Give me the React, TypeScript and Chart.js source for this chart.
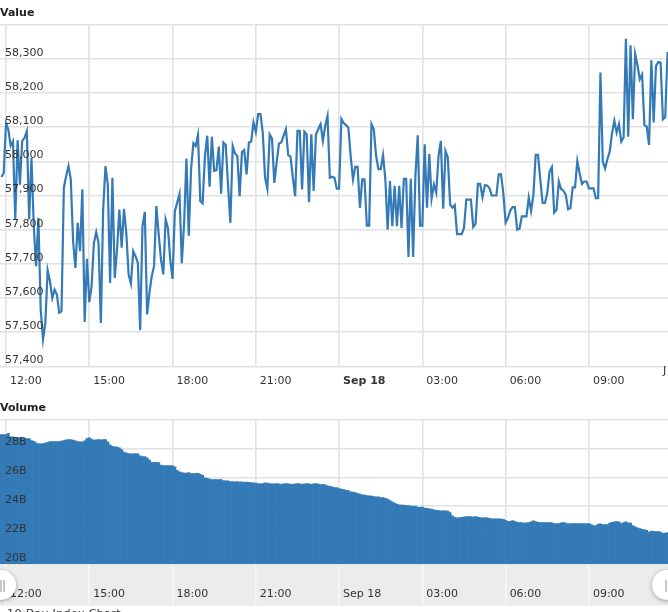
import React, { useEffect, useRef } from 'react'
import Chart from 'chart.js/auto'

// one reading every five minutes, first one ten minutes before the 12:00 tick
const startMinute = -10
const stepMinutes = 5

const priceValues = [
  57954, 57966, 58111, 58093, 58046, 58059, 57830, 58062, 57932, 58059, 58069, 58088,
  57830, 58010, 57810, 57693, 57835, 57566, 57479, 57527, 57681, 57649, 57600, 57624,
  57610, 57557, 57561, 57922, 57957, 57986, 57947, 57766, 57688, 57820, 57737, 57918,
  57530, 57715, 57588, 57635, 57761, 57793, 57761, 57527, 57859, 57986, 57932, 57644,
  57952, 57659, 57742, 57859, 57747, 57861, 57791, 57669, 57642, 57737, 57722, 57703,
  57506, 57810, 57852, 57552, 57615, 57664, 57693, 57869, 57786, 57713, 57669, 57830,
  57805, 57712, 57656, 57854, 57879, 57905, 57702, 57820, 58008, 57782, 57977, 58053,
  58045, 58077, 57883, 57877, 58016, 58075, 57926, 58072, 57972, 57975, 58043, 57905,
  58055, 58048, 57928, 57820, 58045, 58023, 58016, 57898, 58027, 58033, 57962, 58055,
  58058, 58114, 58086, 58138, 58138, 58084, 57952, 57920, 58079, 58067, 57937, 57996,
  58052, 58055, 58075, 58094, 58018, 58014, 57952, 57898, 58089, 58089, 57918, 58087,
  58079, 57880, 58079, 57913, 58079, 58094, 58109, 58060, 58104, 58133, 57952, 57955,
  57952, 57920, 57920, 58124, 58112, 58106, 58099, 58016, 57947, 57984, 57984, 57864,
  57947, 57947, 57812, 57812, 58109, 58094, 58016, 57977, 57977, 58018, 57947, 57800,
  57942, 57810, 57928, 57810, 57928, 57805, 57949, 57949, 57720, 57949, 57720, 57957,
  58076, 57812, 57812, 58050, 57864, 58021, 57891, 57932, 57908, 58016, 58060, 57861,
  58030, 58011, 57874, 57864, 57872, 57787, 57787, 57787, 57805, 57888, 57888, 57888,
  57808, 57817, 57934, 57934, 57895, 57930, 57929, 57922, 57900, 57900, 57900, 57962,
  57962,
  57907, 57821, 57834, 57856, 57866, 57866, 57800, 57803, 57839, 57839, 57839, 57894,
  57855, 57902, 58019, 58019, 57946, 57878, 57878, 57907, 57970, 57983, 57850, 57858,
  57941, 57919, 57914, 57902, 57860, 57863, 57924, 57924, 58001, 57965, 57934, 57941,
  57941, 57921, 57921, 57921, 57892, 57892, 58260, 57999, 57979, 58006, 58029, 58082,
  58119, 58084, 58109, 58058, 58070, 58359, 58072, 58340, 58123, 58314, 58282, 58240,
  58254, 58106, 58102, 58048, 58296, 58114, 58279, 58291, 58289, 58123, 58129, 58320
]

// billions
const volumeValues = [
  28.97, 28.97, 28.97, 29.06, 28.81, 28.81, 28.78, 28.76, 28.74, 28.74,
  28.65, 28.69, 28.69, 28.55, 28.5, 28.4, 28.32, 28.32, 28.35, 28.38,
  28.44, 28.49, 28.49, 28.49, 28.49, 28.49, 28.51, 28.56, 28.6, 28.62,
  28.62, 28.58, 28.53, 28.49, 28.47, 28.47, 28.53, 28.7, 28.74, 28.65,
  28.58, 28.6, 28.62, 28.6, 28.62, 28.62, 28.46, 28.25, 28.16, 28.12,
  28.1, 28.05, 27.93, 27.75, 27.68, 27.65, 27.63, 27.64, 27.65, 27.63,
  27.5, 27.45, 27.45, 27.35, 27.2, 27.05, 27.05, 27.04, 27.03, 26.86,
  26.82, 26.82, 26.82, 26.82, 26.8, 26.73, 26.5, 26.38, 26.33, 26.3,
  26.3, 26.34, 26.26, 26.27, 26.29, 26.28, 26.22, 26.15, 25.97, 25.93,
  25.88, 25.85, 25.85, 25.85, 25.85, 25.85, 25.78, 25.76, 25.76, 25.72,
  25.72, 25.7, 25.72, 25.68, 25.7, 25.66, 25.68, 25.66, 25.64, 25.62,
  25.6, 25.58, 25.55, 25.58, 25.62, 25.6, 25.58, 25.55, 25.56, 25.58,
  25.56, 25.52, 25.55, 25.58, 25.56, 25.54, 25.52, 25.56, 25.58, 25.55,
  25.52, 25.55, 25.58, 25.56, 25.52, 25.55, 25.58, 25.54, 25.5, 25.52,
  25.48, 25.42, 25.38, 25.35, 25.3, 25.3, 25.22, 25.2, 25.15, 25.1,
  25.08, 25.0, 24.98, 24.95, 24.9, 24.85, 24.8, 24.78, 24.75, 24.72,
  24.7, 24.68, 24.65, 24.65, 24.6, 24.6, 24.55, 24.5, 24.4, 24.3,
  24.22, 24.15, 24.1, 24.08, 24.08, 24.05, 24.05, 24.02, 24.0, 24.02,
  23.95, 23.92, 23.95, 23.88, 23.85, 23.82, 23.8, 23.75, 23.72, 23.7,
  23.68, 23.68, 23.68, 23.66, 23.56, 23.33, 23.24, 23.2, 23.2, 23.24,
  23.26, 23.29, 23.29, 23.29, 23.26, 23.29, 23.26, 23.22, 23.2, 23.22,
  23.2, 23.17, 23.13, 23.13, 23.13, 23.13, 23.13, 23.1, 23.03, 22.96,
  22.96, 23.01, 22.96, 22.89, 22.87, 22.87, 22.83, 22.85, 22.87, 22.92,
  22.99, 22.94, 22.89, 22.87, 22.87, 22.87, 22.87, 22.87, 22.85, 22.8,
  22.8, 22.8, 22.85, 22.87, 22.83, 22.78, 22.8, 22.8, 22.8, 22.8,
  22.8, 22.8, 22.8, 22.8, 22.8, 22.73, 22.66, 22.66, 22.76, 22.78,
  22.73, 22.73, 22.73, 22.83, 22.89, 22.92, 22.94, 22.92, 22.8, 22.87,
  22.92, 22.85, 22.83, 22.66, 22.57, 22.5, 22.46, 22.41, 22.36, 22.34,
  22.22, 22.29, 22.27, 22.25, 22.25, 22.22, 22.13, 22.15, 22.18
]

const tickMinutes = [0, 180, 360, 540, 720, 900, 1080, 1260]
const tickLabels = ['12:00', '15:00', '18:00', '21:00', 'Sep 18', '03:00', '06:00', '09:00']
const dayTick = 720

const minuteOf = (i: number) => startMinute + i * stepMinutes
const pricePoints = priceValues.map((y, i) => ({ x: minuteOf(i), y }))
const volumePoints = volumeValues.map((y, i) => ({ x: minuteOf(i), y }))

const BLUE = '#337ab7'
const GRID = '#e2e2e2'
const TEXT = '#333333'
const FAMILY = '"DejaVu Sans"'

const xScale = (height: number, extra: any) => ({
  type: 'linear',
  min: -13,
  max: 1431,
  offset: false,
  border: { display: false },
  afterBuildTicks: (axis: any) => {
    axis.ticks = tickMinutes.map((value) => ({ value }))
  },
  afterFit: (axis: any) => {
    axis.height = height
    axis.paddingLeft = 0
    axis.paddingRight = 0
  },
  ...extra
})

const yTicks = (format: (v: number) => string, top: number, step: number) => ({
  mirror: true,
  padding: 5,
  labelOffset: -6,
  stepSize: step,
  z: 1,
  color: TEXT,
  font: { family: FAMILY, size: 11 },
  callback: (v: any) => (v === top ? '' : format(v))
})

const yFit = (axis: any) => {
  axis.width = 0
  axis.paddingTop = 0
  axis.paddingBottom = 0
}

const titleOf = (text: string) => ({
  display: true,
  text,
  align: 'start',
  color: '#222222',
  font: { family: FAMILY, size: 11, weight: 'bold' },
  padding: { top: 7, bottom: 4.5 }
})

const bandPlugin = {
  id: 'navigatorBand',
  beforeDraw: (chart: any) => {
    const { ctx, chartArea } = chart
    ctx.save()
    ctx.fillStyle = '#ececec'
    ctx.fillRect(0, chartArea.bottom, chart.width, 41.7)
    ctx.restore()
  }
}

const Handle = ({ left, gripLeft }: { left: number; gripLeft: number }) => (
  <>
    <div
      style={{
        position: 'absolute',
        left,
        top: 570,
        width: 30,
        height: 30,
        borderRadius: '50%',
        background: '#fff',
        boxShadow: '0 1px 4px rgba(0,0,0,0.35)'
      }}
    />
    <div style={{ position: 'absolute', left: gripLeft, top: 580, width: 1.5, height: 12, background: '#c8c8c8' }} />
    <div style={{ position: 'absolute', left: gripLeft + 3, top: 580, width: 1.5, height: 12, background: '#c8c8c8' }} />
  </>
)

const App: React.FC = () => {
  const priceRef = useRef<HTMLCanvasElement | null>(null)
  const volumeRef = useRef<HTMLCanvasElement | null>(null)

  useEffect(() => {
    if (!priceRef.current || !volumeRef.current) return

    const priceChart = new Chart(priceRef.current, {
      type: 'line',
      data: {
        datasets: [
          {
            data: pricePoints,
            borderColor: BLUE,
            borderWidth: 2.2,
            pointRadius: 0,
            tension: 0
          }
        ]
      },
      options: {
        animation: false,
        responsive: false,
        maintainAspectRatio: false,
        layout: { autoPadding: false },
        plugins: { legend: { display: false }, tooltip: { enabled: false }, title: titleOf('Value') as any },
        scales: {
          x: xScale(28.7, {
            grid: { color: GRID, lineWidth: 1.6, drawTicks: false },
            ticks: {
              autoSkip: false,
              maxRotation: 0,
              align: 'start',
              labelOffset: 4,
              padding: 8,
              color: TEXT,
              font: (c: any) => ({
                family: FAMILY,
                size: 11,
                weight: c.tick && c.tick.value === dayTick ? 'bold' : 'normal'
              }),
              callback: (v: any) => tickLabels[tickMinutes.indexOf(v)]
            }
          }) as any,
          y: {
            min: 57400,
            max: 58400,
            border: { display: false },
            grid: { color: GRID, lineWidth: 1.6, drawTicks: false },
            afterFit: yFit,
            ticks: yTicks((v) => v.toLocaleString('en-US'), 58400, 100) as any
          }
        }
      }
    })

    const volumeChart = new Chart(volumeRef.current, {
      type: 'bar',
      data: {
        datasets: [
          {
            data: volumePoints,
            backgroundColor: BLUE,
            borderWidth: 0,
            barPercentage: 1,
            categoryPercentage: 1
          }
        ]
      },
      options: {
        animation: false,
        responsive: false,
        maintainAspectRatio: false,
        layout: { autoPadding: false },
        plugins: { legend: { display: false }, tooltip: { enabled: false }, title: titleOf('Volume') as any },
        scales: {
          x: xScale(48, {
            grid: { color: GRID, lineWidth: 1.6, offset: false, tickColor: '#f8f8f8', tickLength: 41.7, tickWidth: 1.5 },
            ticks: {
              autoSkip: false,
              maxRotation: 0,
              align: 'start',
              labelOffset: 4,
              padding: -18.5,
              color: TEXT,
              font: { family: FAMILY, size: 11 },
              callback: (v: any) => tickLabels[tickMinutes.indexOf(v)]
            }
          }) as any,
          y: {
            min: 20,
            max: 30,
            border: { display: false },
            grid: { color: GRID, lineWidth: 1.6, drawTicks: false },
            afterFit: yFit,
            ticks: yTicks((v) => `${v}B`, 30, 2) as any
          }
        }
      },
      plugins: [bandPlugin]
    })

    return () => {
      priceChart.destroy()
      volumeChart.destroy()
    }
  }, [])

  return (
    <div
      style={{
        position: 'fixed',
        left: 0,
        top: 0,
        width: 668,
        height: 612,
        overflow: 'hidden',
        background: '#fff',
        fontFamily: FAMILY,
        fontSize: 11,
        color: TEXT
      }}
    >
      <canvas ref={priceRef} width={668} height={395} style={{ position: 'absolute', left: 0, top: 0 }} />
      <canvas ref={volumeRef} width={668} height={217} style={{ position: 'absolute', left: 0, top: 395 }} />
      <div style={{ position: 'absolute', left: 663, top: 364, lineHeight: '13px' }}>J</div>
      <Handle left={-14} gripLeft={0} />
      <Handle left={652} gripLeft={665} />
      <div style={{ position: 'absolute', left: 7, top: 607, lineHeight: '13px', whiteSpace: 'nowrap', letterSpacing: 0.4 }}>
        10 Day Index Chart
      </div>
    </div>
  )
}

export default App
